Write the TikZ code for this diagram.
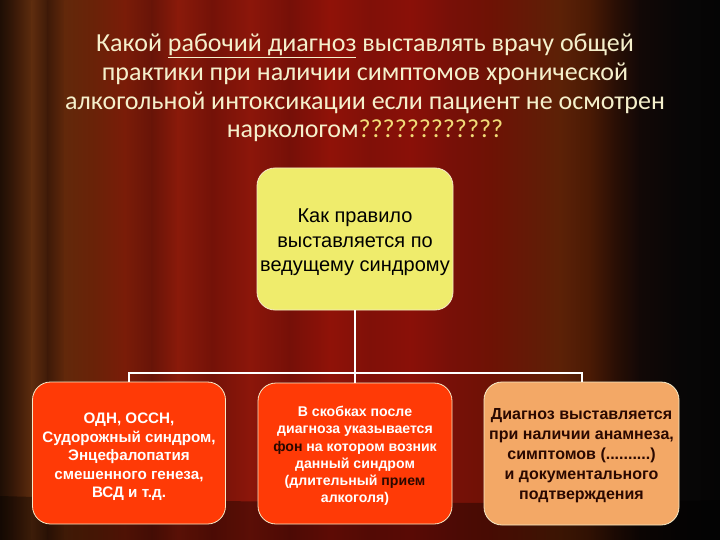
\documentclass[tikz,border=0pt]{standalone}
\usepackage{fontspec}
\setmainfont{Liberation Sans}
\newfontfamily\titlefont{Carlito}
\definecolor{titlecol}{HTML}{F5F0CC}
\definecolor{qcol}{HTML}{F2DC78}
\definecolor{yelbox}{HTML}{EFEC6C}
\definecolor{redbox}{HTML}{FF3A06}
\definecolor{sandbox}{HTML}{F3A866}
\definecolor{edgecol}{HTML}{F6EBC8}
\definecolor{darktxt}{HTML}{2A0800}
\definecolor{cs0}{HTML}{1E0E05}
\definecolor{cs1}{HTML}{3A1A08}
\definecolor{cs2}{HTML}{5E2C0E}
\definecolor{cs3}{HTML}{3E1A08}
\definecolor{cs4}{HTML}{62280A}
\definecolor{cs5}{HTML}{6A2208}
\definecolor{cs6}{HTML}{7A1C08}
\definecolor{cs7}{HTML}{681408}
\definecolor{cs8}{HTML}{8A1A0A}
\definecolor{cs9}{HTML}{741208}
\definecolor{cs10}{HTML}{8C160A}
\definecolor{cs11}{HTML}{761008}
\definecolor{cs12}{HTML}{901208}
\definecolor{cs13}{HTML}{801008}
\definecolor{cs14}{HTML}{8A1008}
\definecolor{cs15}{HTML}{781008}
\definecolor{cs16}{HTML}{6E1205}
\definecolor{cs17}{HTML}{641A06}
\definecolor{cs18}{HTML}{5C2106}
\definecolor{cs19}{HTML}{4A1A05}
\definecolor{cs20}{HTML}{2A0F05}
\definecolor{cs21}{HTML}{120806}
\definecolor{cs22}{HTML}{080606}
\definecolor{cs23}{HTML}{050505}
\tikzset{
  boxbase/.style={draw=edgecol, line width=0.8pt, rounded corners=18pt, inner sep=0pt},
  txt/.style={inner sep=0pt, align=center},
  topbox/.style={boxbase, fill=yelbox, minimum width=196pt, minimum height=142pt},
  toptxt/.style={txt, font=\fontsize{20}{24.5}\selectfont, text=black},
  redbx/.style={boxbase, fill=redbox},
  redtxt/.style={txt, text=white, font=\bfseries\fontsize{15.2}{18.4}\selectfont},
  sandbx/.style={boxbase, fill=sandbox, minimum width=195pt, minimum height=143pt},
  sandtxt/.style={txt, text=darktxt, font=\bfseries\fontsize{16}{20}\selectfont},
  conn/.style={draw=white, line width=2pt},
  titletext/.style={text=titlecol, font=\titlefont\fontsize{26}{28.8}\selectfont, align=center, inner sep=0pt}
}
\begin{document}
\begin{tikzpicture}[x=1pt,y=-1pt]
\useasboundingbox (0,0) rectangle (720,540);
% curtain background
\foreach \xa/\ca/\xb/\cb in {0/cs0/15/cs1, 15/cs1/32/cs2, 32/cs2/48/cs3, 48/cs3/65/cs4, 65/cs4/95/cs5,
  95/cs5/125/cs6, 125/cs6/152/cs7, 152/cs7/178/cs8, 178/cs8/212/cs9, 212/cs9/250/cs10,
  250/cs10/290/cs11, 290/cs11/330/cs12, 330/cs12/370/cs13, 370/cs13/410/cs14, 410/cs14/450/cs15,
  450/cs15/490/cs16, 490/cs16/530/cs17, 530/cs17/560/cs18, 560/cs18/590/cs19, 590/cs19/615/cs20,
  615/cs20/640/cs21, 640/cs21/680/cs22, 680/cs22/720/cs23}
  { \fill[left color=\ca, right color=\cb] (\xa-0.3,0) rectangle (\xb+0.3,540); }
\fill[black, opacity=0.35] (0,496) .. controls (200,502) and (500,506) .. (720,500) -- (720,540) -- (0,540) -- cycle;
% title
\node[titletext] (title) at (365,88) {Какой \underline{рабочий диагноз} выставлять врачу общей\\
практики при наличии симптомов хронической\\
алкогольной интоксикации если пациент не осмотрен\\
наркологом\textcolor{qcol}{????????????}};
% boxes
\node[topbox] (top) at (355,239) {};
\node[toptxt] (toptext) at (355,242.5) {Как правило\\выставляется по\\ведущему синдрому};
\node[redbx, minimum width=193pt, minimum height=142pt] (b1) at (129,453) {};
\node[redtxt] (b1text) at (129,457) {ОДН, ОССН,\\Судорожный синдром,\\Энцефалопатия\\смешенного генеза,\\ВСД и т.д.};
\node[redbx, minimum width=194pt, minimum height=141pt] (b2) at (355,453.5) {};
\node[redtxt, font=\bfseries\fontsize{14.1}{17.3}\selectfont] (b2text) at (355,456) {В скобках после\\диагноза указывается\\\textcolor{darktxt}{фон} на котором возник\\данный синдром\\(длительный \textcolor{darktxt}{прием}\\алкоголя)};
\node[sandbx] (b3) at (581.5,453.5) {};
\node[sandtxt] (b3text) at (581.5,456) {Диагноз выставляется\\при наличии анамнеза,\\симптомов (..........)\\и документального\\подтверждения};
% connectors
\coordinate (j) at (355,373);
\draw[conn] (top.south) -- (j);
\draw[conn] (b1.north) |- (j) -| (b3.north);
\draw[conn] (j) -- (b2.north);
\end{tikzpicture}
\end{document}
